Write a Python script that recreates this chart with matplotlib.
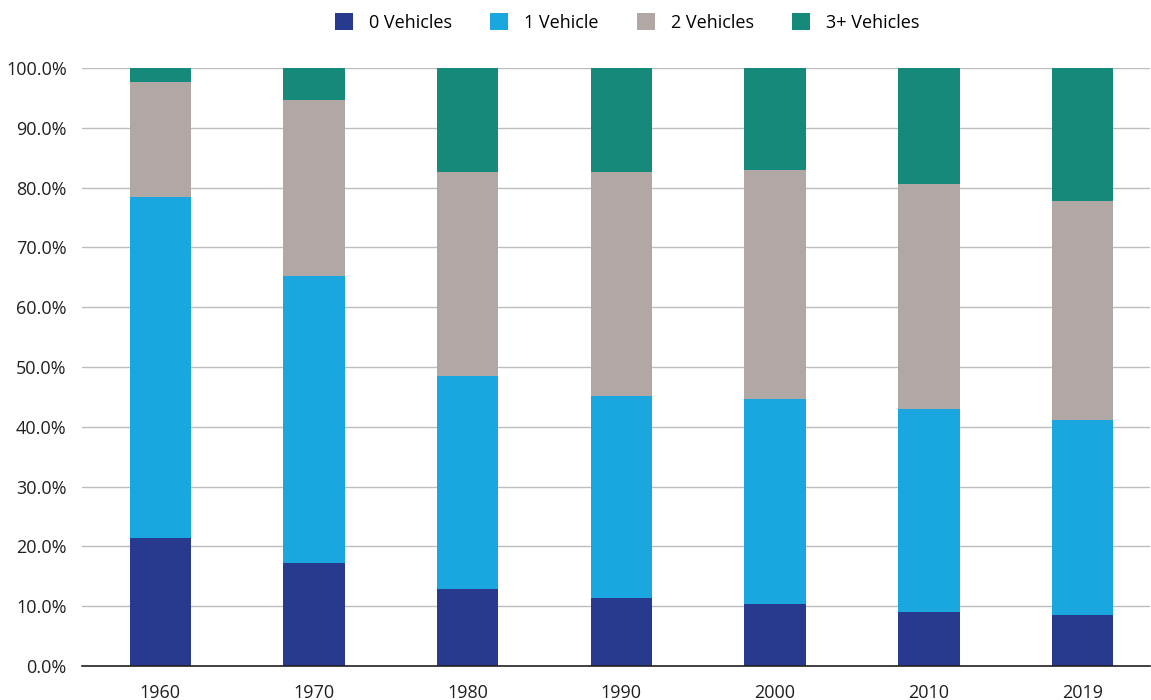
import numpy as np
from matplotlib import pyplot as plt
from matplotlib.ticker import FuncFormatter

plt.rcParams['font.family'] = ['Open Sans', 'DejaVu Sans']

years = ["1960", "1970", "1980", "1990", "2000", "2010", "2019"]
zero_veh = [21.4, 17.2, 12.9, 11.4, 10.4, 9.0, 8.5]
one_veh = [57.0, 48.0, 35.6, 33.8, 34.2, 34.0, 32.6]
two_veh = [19.3, 29.4, 34.1, 37.4, 38.3, 37.6, 36.7]
three_veh = [2.3, 5.4, 17.4, 17.4, 17.1, 19.4, 22.2]

labels = ["0 Vehicles", "1 Vehicle", "2 Vehicles", "3+ Vehicles"]
colors = ["#283a8e", "#1aa7e0", "#b1a7a5", "#168a7a"]

fig = plt.figure(figsize=(11.51, 7), dpi=100)
ax = fig.add_axes([0.0712, 0.0486, 0.928, 0.8544])

x = np.arange(len(years))
bottom = np.zeros(len(years))
for vals, lab, col in zip([zero_veh, one_veh, two_veh, three_veh], labels, colors):
    ax.bar(x, vals, 0.40, bottom=bottom, color=col, label=lab, zorder=3)
    bottom = bottom + np.array(vals)

ax.set_ylim(0, 100)
ax.set_xlim(-0.51, 6.44)
ax.set_yticks(np.arange(0, 101, 10))
ax.yaxis.set_major_formatter(FuncFormatter(lambda v, p: "%.1f%%" % v))
ax.set_xticks(x)
ax.set_xticklabels(years)
ax.tick_params(length=0, labelsize=13, colors="#231f20")
ax.tick_params(axis="y", pad=11)
ax.tick_params(axis="x", pad=13)
ax.grid(axis="y", color="#bdbdbd", linewidth=1, zorder=0)
for s in ["top", "right", "left"]:
    ax.spines[s].set_visible(False)
ax.spines["bottom"].set_color("#231f20")
ax.spines["bottom"].set_linewidth(1.2)
ax.spines["bottom"].set_zorder(4)

fig.legend(loc="upper center", bbox_to_anchor=(0.545, 1.005), ncol=4, frameon=False,
           fontsize=13, handlelength=1.0, handleheight=1.1, columnspacing=2.1, handletextpad=0.9)

plt.savefig("out.png", dpi=100)
